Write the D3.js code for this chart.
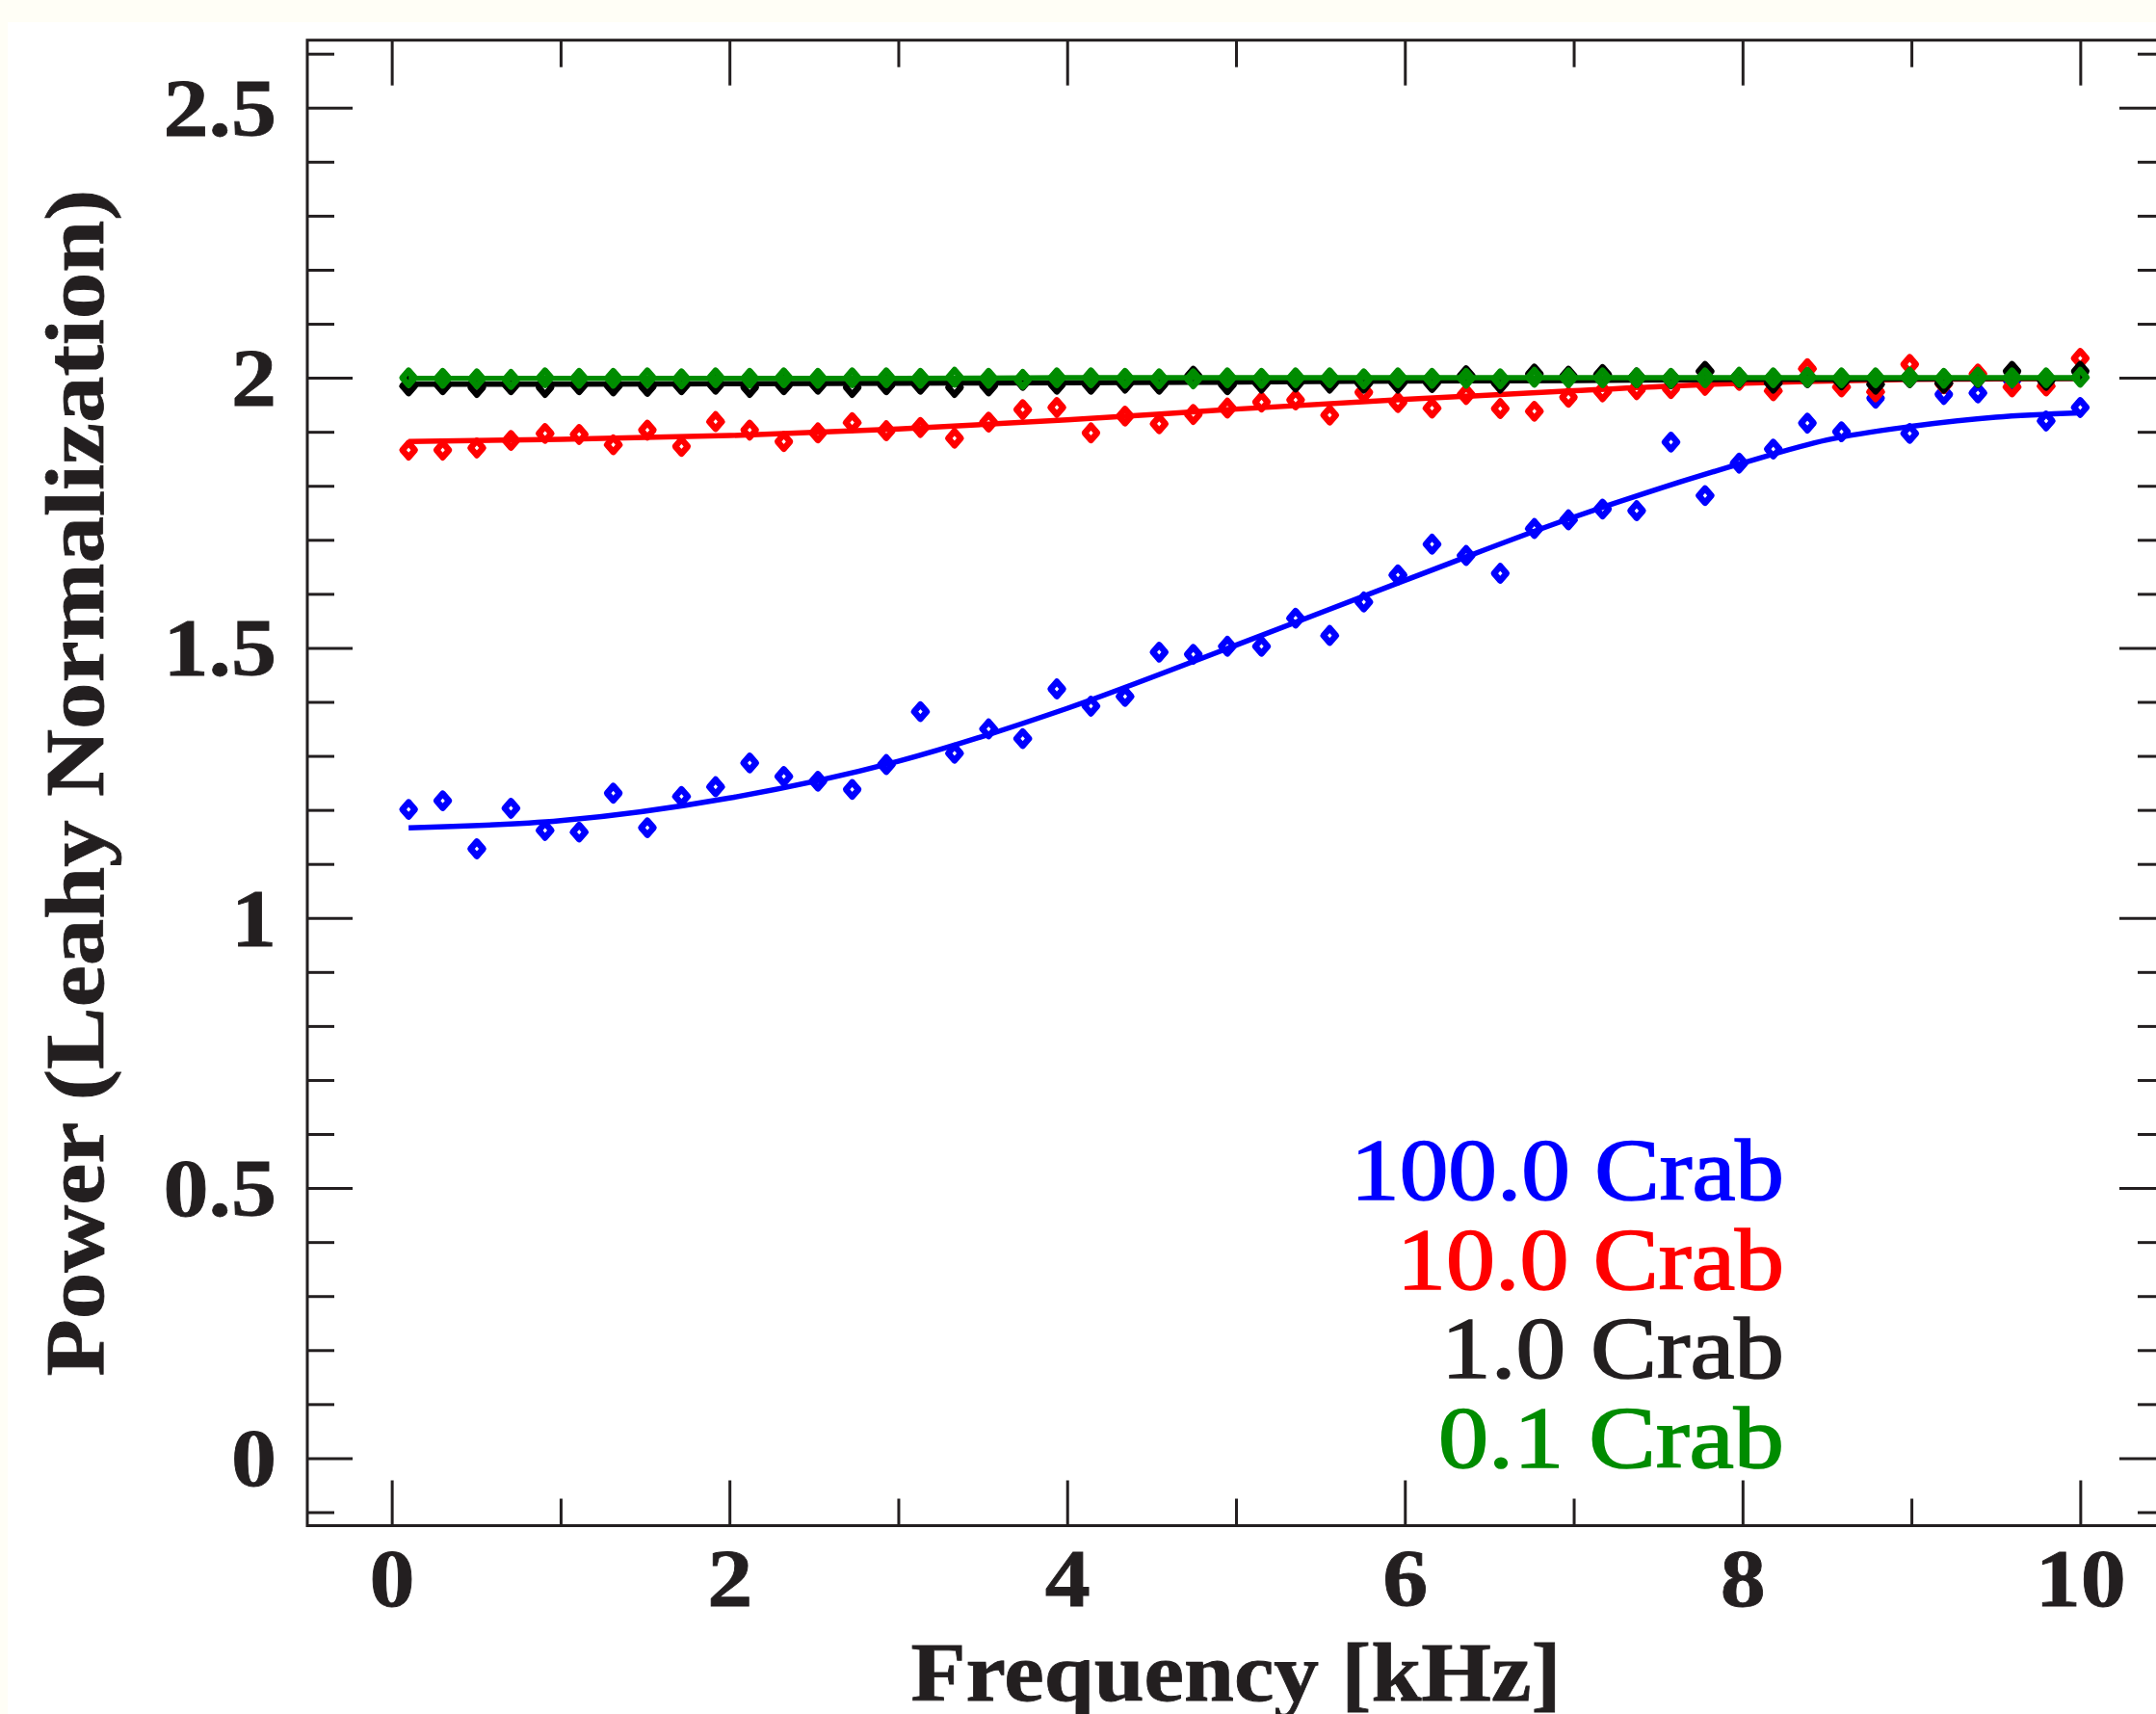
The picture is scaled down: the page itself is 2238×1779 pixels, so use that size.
<!DOCTYPE html>
<html>
<head>
<meta charset="utf-8">
<script src="https://cdn.jsdelivr.net/npm/d3@7"></script>
<style>
  html, body { margin: 0; padding: 0; background: #fffef6; }
  svg { display: block; }
</style>
</head>
<body>
<svg id="chart" width="2238" height="1779"></svg>
<script>
// frequencies of the power spectrum bins [kHz]
const freq = [0.100, 0.302, 0.504, 0.706, 0.908, 1.110, 1.312, 1.514, 1.716, 1.918,
              2.120, 2.322, 2.524, 2.727, 2.929, 3.131, 3.333, 3.535, 3.737, 3.939,
              4.141, 4.343, 4.545, 4.747, 4.949, 5.151, 5.353, 5.555, 5.757, 5.959,
              6.161, 6.363, 6.565, 6.767, 6.969, 7.171, 7.373, 7.576, 7.778, 7.980,
              8.182, 8.384, 8.586, 8.788, 8.990, 9.192, 9.394, 9.596, 9.798, 10.000];

const crab100 = [1.201, 1.217, 1.128, 1.203, 1.162, 1.159, 1.231, 1.167, 1.225, 1.243,
                 1.287, 1.262, 1.253, 1.238, 1.284, 1.382, 1.305, 1.350, 1.332, 1.424,
                 1.392, 1.410, 1.492, 1.488, 1.503, 1.503, 1.555, 1.523, 1.585, 1.635,
                 1.692, 1.671, 1.638, 1.721, 1.737, 1.757, 1.754, 1.881, 1.782, 1.842,
                 1.868, 1.916, 1.900, 1.962, 1.897, 1.969, 1.972, 1.995, 1.920, 1.945];

const crab10 = [1.866, 1.866, 1.870, 1.884, 1.897, 1.895, 1.876, 1.903, 1.873, 1.919,
                1.903, 1.882, 1.898, 1.917, 1.902, 1.908, 1.888, 1.918, 1.941, 1.945,
                1.898, 1.929, 1.915, 1.932, 1.944, 1.955, 1.959, 1.931, 1.973, 1.954,
                1.944, 1.969, 1.943, 1.938, 1.964, 1.974, 1.978, 1.980, 1.986, 1.995,
                1.976, 2.017, 1.983, 1.974, 2.025, 1.989, 2.007, 1.983, 1.985, 2.036];

const crab1 = [1.985, 1.987, 1.982, 1.987, 1.982, 1.987, 1.985, 1.984, 1.987, 1.988,
               1.982, 1.987, 1.988, 1.982, 1.987, 1.988, 1.982, 1.985, 1.995, 1.988,
               1.988, 1.990, 1.988, 2.003, 1.987, 1.990, 1.992, 1.990, 1.990, 1.990,
               1.991, 2.004, 1.990, 2.007, 2.003, 2.006, 2.000, 1.998, 2.012, 2.000,
               1.990, 2.000, 1.996, 1.988, 2.000, 1.990, 2.000, 2.012, 1.995, 2.012];

const crab01 = [2.000, 1.999, 1.998, 1.997, 2.000, 1.999, 1.999, 2.000, 1.998, 2.000,
                1.999, 2.000, 1.999, 2.000, 2.000, 1.999, 2.001, 1.999, 1.997, 2.000,
                2.000, 1.999, 1.998, 1.998, 2.000, 1.999, 2.000, 2.000, 1.998, 2.000,
                1.999, 1.999, 1.998, 2.001, 2.000, 2.000, 2.000, 1.999, 2.000, 2.001,
                2.000, 2.001, 2.000, 2.000, 2.001, 1.999, 2.001, 2.000, 2.000, 2.001];

const modelFreq = [0.1, 1, 2, 3, 4, 5, 6, 7, 8, 8.5, 9, 9.5, 10];
const model100 = [1.167, 1.180, 1.222, 1.290, 1.388, 1.505, 1.625, 1.742, 1.842, 1.885, 1.910, 1.927, 1.935];
const model10  = [1.882, 1.886, 1.893, 1.905, 1.922, 1.942, 1.960, 1.976, 1.990, 1.994, 1.997, 1.998, 1.999];
const model1   = [1.988, 1.988, 1.989, 1.990, 1.991, 1.992, 1.994, 1.995, 1.997, 1.997, 1.998, 1.999, 1.999];
const model01  = [1.999, 1.999, 1.999, 1.999, 2.000, 2.000, 2.000, 2.000, 2.000, 2.000, 2.000, 2.000, 2.000];

const labels = ["100.0 Crab", "10.0 Crab", "1.0 Crab", "0.1 Crab"];
const colors = ["#0000ff", "#ff0000", "#000000", "#008c00"];
const textColors = ["#0000ff", "#ff0000", "#231f20", "#008c00"];

const xMajor = [0, 2, 4, 6, 8, 10];
const xMinor = [1, 3, 5, 7, 9];
const yMajor = [0, 0.5, 1, 1.5, 2, 2.5];
const yMinor = [-0.1, 0.1, 0.2, 0.3, 0.4, 0.6, 0.7, 0.8, 0.9, 1.1, 1.2, 1.3, 1.4,
                1.6, 1.7, 1.8, 1.9, 2.1, 2.2, 2.3, 2.4, 2.6];

const ink = "#231f20";
const font = "'Liberation Serif', 'Times New Roman', serif";

const svg = d3.select("#chart");

// white page on the cream border
svg.append("rect").attr("x", 8).attr("y", 23).attr("width", 2238).attr("height", 1779).attr("fill", "#ffffff");

const x = d3.scaleLinear().domain([-0.5, 10.5]).range([319, 2247]);
const y = d3.scaleLinear().domain([-0.125, 2.625]).range([1583.5, 41.7]);

const fmt = d => d3.format("")(d);

function styleAxis(g) {
  g.select(".domain").remove();
  g.selectAll(".tick line").attr("stroke", ink).attr("stroke-width", 3);
  g.selectAll(".tick text")
    .attr("fill", ink)
    .attr("font-family", font)
    .attr("font-weight", "bold")
    .attr("font-size", 84)
    .attr("stroke", ink)
    .attr("stroke-width", 0.8);
}

// widen tick labels a little (the original face is an extended bold)
function widen(g) {
  g.selectAll(".tick text").each(function () {
    const w = this.getComputedTextLength();
    d3.select(this).attr("textLength", w * 1.12).attr("lengthAdjust", "spacingAndGlyphs");
  });
}

// bottom
svg.append("g").attr("transform", `translate(0,${y.range()[0]})`)
  .call(d3.axisBottom(x).tickValues(xMajor).tickSize(-47).tickSizeOuter(0).tickFormat(fmt))
  .call(styleAxis)
  .call(g => g.selectAll(".tick text").attr("dy", null).attr("y", 83.5))
  .call(widen);
svg.append("g").attr("transform", `translate(0,${y.range()[0]})`)
  .call(d3.axisBottom(x).tickValues(xMinor).tickSize(-28).tickSizeOuter(0).tickFormat(""))
  .call(styleAxis);
// top
svg.append("g").attr("transform", `translate(0,${y.range()[1]})`)
  .call(d3.axisTop(x).tickValues(xMajor).tickSize(-47).tickSizeOuter(0).tickFormat(""))
  .call(styleAxis);
svg.append("g").attr("transform", `translate(0,${y.range()[1]})`)
  .call(d3.axisTop(x).tickValues(xMinor).tickSize(-28).tickSizeOuter(0).tickFormat(""))
  .call(styleAxis);
// left
svg.append("g").attr("transform", `translate(${x.range()[0]},0)`)
  .call(d3.axisLeft(y).tickValues(yMajor).tickSize(-47).tickSizeOuter(0).tickPadding(32).tickFormat(fmt))
  .call(styleAxis)
  .call(g => g.selectAll(".tick text").attr("dy", "0.34em"))
  .call(widen);
svg.append("g").attr("transform", `translate(${x.range()[0]},0)`)
  .call(d3.axisLeft(y).tickValues(yMinor).tickSize(-28).tickSizeOuter(0).tickFormat(""))
  .call(styleAxis);
// right
svg.append("g").attr("transform", `translate(${x.range()[1]},0)`)
  .call(d3.axisRight(y).tickValues(yMajor).tickSize(-47).tickSizeOuter(0).tickFormat(""))
  .call(styleAxis);
svg.append("g").attr("transform", `translate(${x.range()[1]},0)`)
  .call(d3.axisRight(y).tickValues(yMinor).tickSize(-28).tickSizeOuter(0).tickFormat(""))
  .call(styleAxis);

// frame
svg.append("rect")
  .attr("x", x.range()[0]).attr("y", y.range()[1])
  .attr("width", x.range()[1] - x.range()[0])
  .attr("height", y.range()[0] - y.range()[1])
  .attr("fill", "none").attr("stroke", ink).attr("stroke-width", 3);

// data
const series = [crab100, crab10, crab1, crab01];
const models = [model100, model10, model1, model01];
const line = d3.line().x(d => x(d[0])).y(d => y(d[1])).curve(d3.curveMonotoneX);
const diamond = "M0,-7.5L6.5,0L0,7.5L-6.5,0Z";

series.forEach((vals, k) => {
  const g = svg.append("g");
  g.selectAll("path.pt")
    .data(freq.map((f, i) => [f, vals[i]]))
    .join("path")
    .attr("class", "pt")
    .attr("d", diamond)
    .attr("transform", d => `translate(${x(d[0])},${y(d[1])})`)
    .attr("fill", "none")
    .attr("stroke", colors[k])
    .attr("stroke-width", 6.5)
    .attr("stroke-linejoin", "round");
  g.append("path")
    .datum(modelFreq.map((f, i) => [f, models[k][i]]))
    .attr("d", line)
    .attr("fill", "none")
    .attr("stroke", colors[k])
    .attr("stroke-width", 5.5);
});

// legend
const legBase = [1245, 1337.5, 1430, 1522.5];
const legWidth = [450, 402, 356, 359];
svg.append("g").selectAll("text")
  .data(labels)
  .join("text")
  .attr("x", 1852)
  .attr("y", (d, i) => legBase[i])
  .attr("text-anchor", "end")
  .attr("font-family", font)
  .attr("font-size", 90)
  .attr("textLength", (d, i) => legWidth[i])
  .attr("lengthAdjust", "spacingAndGlyphs")
  .attr("fill", (d, i) => textColors[i])
  .attr("stroke", (d, i) => textColors[i])
  .attr("stroke-width", 1.6)
  .text(d => d);

// axis titles
svg.append("text")
  .attr("x", x(5)).attr("y", 1764.5)
  .attr("text-anchor", "middle")
  .attr("font-family", font).attr("font-weight", "bold").attr("font-size", 86)
  .attr("textLength", 675).attr("lengthAdjust", "spacingAndGlyphs")
  .attr("fill", ink).attr("stroke", ink).attr("stroke-width", 0.8)
  .text("Frequency [kHz]");

svg.append("text")
  .attr("transform", `translate(107,${y(1.25)}) rotate(-90)`)
  .attr("text-anchor", "middle")
  .attr("font-family", font).attr("font-weight", "bold").attr("font-size", 86)
  .attr("textLength", 1232).attr("lengthAdjust", "spacingAndGlyphs")
  .attr("fill", ink).attr("stroke", ink).attr("stroke-width", 0.8)
  .text("Power (Leahy Normalization)");
</script>
</body>
</html>
